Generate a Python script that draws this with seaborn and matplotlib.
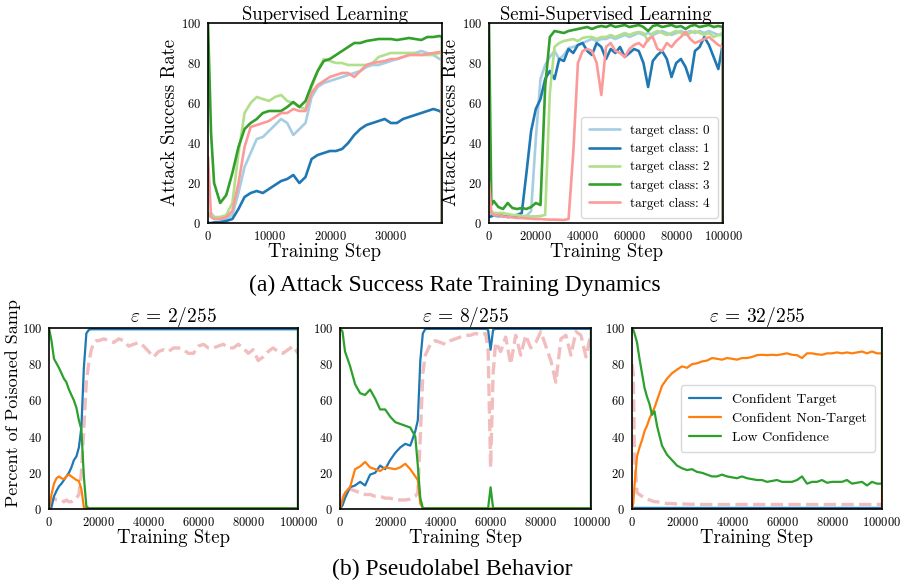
import matplotlib
matplotlib.use("Agg")
import matplotlib.pyplot as plt
import seaborn as sns
import pandas as pd

# ---------------- data ----------------
# (a) Supervised learning, attack success rate
sup_steps = [0, 500, 1000, 2000, 3000, 4000, 5000, 6000, 7000, 8000, 9000, 10000,
             11000, 12000, 13000, 14000, 15000, 16000, 17000, 18000, 19000, 20000,
             21000, 22000, 23000, 24000, 25000, 26000, 27000, 28000, 29000, 30000,
             31000, 32000, 33000, 34000, 35000, 36000, 37000, 38000, 38400, 38400]
sup_c0 = [3, 5, 3, 2, 2, 4, 15, 28, 35, 42, 43, 46, 49, 52, 50, 44, 47, 50, 63, 68, 70, 71,
          72, 73, 74, 75, 76, 78, 79, 79, 80, 81, 82, 83, 84, 85, 86, 85, 84, 82, 82, 0]
sup_c1 = [0, 0, 0.3, 0.5, 1, 2, 7, 13, 15, 16, 15, 17, 19, 21, 22, 24, 20, 23, 32, 34, 35, 36,
          36, 37, 40, 44, 47, 49, 50, 51, 52, 50, 50, 52, 53, 54, 55, 56, 57, 56, 55, 0]
sup_c2 = [5, 4, 3, 3, 4, 10, 35, 55, 60, 63, 62, 61, 63, 64, 61, 60, 58, 57, 68, 76, 82, 81,
          80, 80, 79, 79, 79, 79, 80, 83, 84, 85, 85, 85, 85, 85, 84, 84, 84, 85, 86, 0]
sup_c3 = [100, 45, 20, 10, 14, 25, 38, 47, 50, 52, 55, 56, 56, 56, 58, 60.5, 58, 61, 69, 76, 81, 82,
          84, 86, 88, 90, 90, 91, 91.5, 92, 92, 92, 91.5, 92, 92.5, 92, 91.5, 93, 93, 93.5, 93, 0]
sup_c4 = [33, 3, 2, 2, 3, 6, 20, 38, 48, 49, 50, 51, 53, 55, 55, 57, 56, 56, 65, 69, 71, 73,
          74, 75, 75, 73, 76, 79, 80, 80.5, 81, 82, 82, 83, 84, 84, 84, 84.5, 85, 85.5, 85, 0]

# (a) Semi-supervised learning
semi_steps = [0, 1000, 2000, 4000, 6000, 8000, 10000, 12000, 14000, 16000, 18000, 20000,
              22000, 24000, 26000, 28000, 30000, 32000, 34000, 36000, 38000, 40000,
              42000, 44000, 46000, 48000, 50000, 52000, 54000, 56000, 58000, 60000,
              62000, 64000, 66000, 68000, 70000, 72000, 74000, 76000, 78000, 80000,
              82000, 84000, 86000, 88000, 90000, 92000, 94000, 96000, 98000, 100000, 100000]
semi_c0 = [3, 4, 4, 3, 3.5, 3, 3.3, 3, 3.5, 3.5, 6, 42, 72, 79, 83, 86, 82, 84, 87.5, 88, 89, 90,
           91, 92, 91, 92, 92, 93, 92, 93, 94, 93, 94, 95, 94, 95, 94, 95, 96, 95, 94, 95,
           96, 95, 96, 95, 96, 95, 96, 95, 94, 95, 0]
semi_c1 = [3, 3.3, 4, 4, 3.5, 3, 3.5, 4, 5, 25, 46, 57, 62, 72, 76, 72, 82, 81, 87, 85, 89, 90,
           86, 84, 90, 88, 82, 87, 85, 88, 83, 85, 87, 86, 80, 68, 81, 84, 86, 82, 73, 80,
           82, 78, 71, 86, 88, 93, 89, 83, 77, 90, 0]
semi_c2 = [5, 6, 5, 5, 5, 4.5, 4, 4, 3.5, 3.3, 3.3, 3.3, 3.5, 4, 65, 88, 90, 91, 91.5, 92, 91, 92.5,
           93, 93, 92, 93, 93, 94, 93, 94, 95, 94, 95, 95.5, 95, 91, 95, 96, 95, 94, 95, 96,
           95, 94, 95, 96, 95, 94, 95, 93, 94, 94, 0]
semi_c3 = [100, 9, 11, 8, 7, 10, 7.5, 7, 7.5, 7, 8, 10, 9, 68, 93, 96, 95.5, 95, 96, 96.5, 97, 97.5,
           98, 97, 98, 98.5, 98, 99, 98, 98.5, 99, 98, 98.5, 99, 98, 96, 98.5, 99, 98, 98.5, 99, 98,
           98.5, 97, 98.5, 99, 98, 98.5, 99, 98, 98.5, 98, 0]
semi_c4 = [21, 5, 4, 4, 3.3, 3, 2.8, 2.5, 2.5, 2.3, 2.2, 2, 2, 1.8, 1.7, 1.7, 1.6, 1.5, 2, 35, 80, 86,
           87, 86, 80, 64, 88, 90, 86, 85, 83, 87, 89, 90, 88, 92, 93, 87, 86, 90, 88, 91,
           93, 95.5, 92, 90, 91, 92, 93, 91, 89, 88, 0]

class_labels = ["target class: 0", "target class: 1", "target class: 2",
                "target class: 3", "target class: 4"]

# (b) Pseudolabel behaviour, eps = 2/255
b1_steps = [0, 1000, 2000, 3000, 4000, 5000, 6000, 7000, 8000, 9000, 10000, 11000, 12000,
            13000, 14000, 15000, 16000, 17000, 18000, 19000, 20000,
            22000, 24000, 26000, 28000, 30000, 32000, 34000, 36000, 38000, 40000,
            42000, 44000, 46000, 48000, 50000, 52000, 54000, 56000, 58000, 60000,
            62000, 64000, 66000, 68000, 70000, 72000, 74000, 76000, 78000, 80000,
            82000, 84000, 86000, 88000, 90000, 92000, 94000, 96000, 98000, 100000, 100000]
b1_target = [0, 1, 7, 10, 12.5, 14, 16, 18, 20, 23, 27, 29, 34, 45, 78, 97, 99, 99.3, 99.3, 99.3, 99.3,
             99.3, 99.3, 99.3, 99.3, 99.3, 99.3, 99.3, 99.3, 99.3, 99.3,
             99.3, 99.3, 99.3, 99.3, 99.3, 99.3, 99.3, 99.3, 99.3, 99.3,
             99.3, 99.3, 99.3, 99.3, 99.3, 99.3, 99.3, 99.3, 99.3, 99.3,
             99.3, 99.3, 99.3, 99.3, 99.3, 99.3, 99.3, 99.3, 99.3, 99.3, 0]
b1_nontarget = [0, 8, 14, 17, 18, 17, 16.5, 18, 19, 18, 17, 16, 15.5, 11, 1, 0.3, 0.3, 0.3, 0.3, 0.3, 0.3,
                0.3, 0.3, 0.3, 0.3, 0.3, 0.3, 0.3, 0.3, 0.3, 0.3,
                0.3, 0.3, 0.3, 0.3, 0.3, 0.3, 0.3, 0.3, 0.3, 0.3,
                0.3, 0.3, 0.3, 0.3, 0.3, 0.3, 0.3, 0.3, 0.3, 0.3,
                0.3, 0.3, 0.3, 0.3, 0.3, 0.3, 0.3, 0.3, 0.3, 0.3, 0]
b1_low = [100, 93, 83, 80.5, 78, 75, 72, 70, 66, 63, 60, 56, 49, 44, 18, 1.5, 0.4, 0.4, 0.4, 0.4, 0.4,
          0.4, 0.4, 0.4, 0.4, 0.4, 0.4, 0.4, 0.4, 0.4, 0.4,
          0.4, 0.4, 0.4, 0.4, 0.4, 0.4, 0.4, 0.4, 0.4, 0.4,
          0.4, 0.4, 0.4, 0.4, 0.4, 0.4, 0.4, 0.4, 0.4, 0.4,
          0.4, 0.4, 0.4, 0.4, 0.4, 0.4, 0.4, 0.4, 0.4, 0.4, 100]
b1_dashed = [2, 4, 6, 5, 5, 5, 4, 5, 4, 4, 5, 6, 8, 20, 45, 70, 81, 88, 92, 93, 93,
             94, 93, 92, 94, 93, 90, 91, 92, 90, 87,
             84, 87, 88, 87, 89, 89, 88, 86, 86, 90,
             91, 89, 89, 90, 91, 89, 89, 91, 89, 86,
             88, 82, 84, 87, 89, 87, 86, 88, 90, 86, 86]

# eps = 8/255
b2_steps = [0, 1000, 2000, 4000, 6000, 8000, 10000, 12000, 14000, 16000, 18000, 20000,
            22000, 24000, 26000, 28000, 30000, 31000, 32000, 33000, 34000,
            36000, 38000, 40000, 42000, 44000, 46000, 48000, 50000, 52000, 54000, 56000, 58000,
            59000, 60000, 61000,
            62000, 64000, 66000, 68000, 70000, 72000, 74000, 76000, 78000, 80000,
            82000, 84000, 86000, 88000, 90000, 92000, 94000, 96000, 98000, 100000, 100000]
b2_target = [0, 2, 6, 12, 13, 15, 13, 19, 20, 24, 22, 27, 31, 34, 36, 35, 43, 49, 82, 97, 99.5,
             99.5, 99.5, 99.5, 99.5, 99.5, 99.5, 99.5, 99.5, 99.5, 99.5, 99.5, 99.5,
             99, 88, 99,
             99.5, 99.5, 99.5, 99.5, 99.5, 99.5, 99.5, 99.5, 99.5, 99.5,
             99.5, 99.5, 99.5, 99.5, 99.5, 99.5, 99.5, 99.5, 99.5, 99.5, 0]
b2_nontarget = [0, 5, 9, 12, 22, 23.5, 26, 23, 22, 21, 23, 22.5, 22, 23, 25, 22, 18, 16, 3, 0.4, 0.4,
                0.4, 0.4, 0.4, 0.4, 0.4, 0.4, 0.4, 0.4, 0.4, 0.4, 0.4, 0.4,
                0.4, 0.4, 0.4,
                0.4, 0.4, 0.4, 0.4, 0.4, 0.4, 0.4, 0.4, 0.4, 0.4,
                0.4, 0.4, 0.4, 0.4, 0.4, 0.4, 0.4, 0.4, 0.4, 0.4, 0]
b2_low = [100, 98, 87, 79, 69, 64, 63, 66, 61, 55, 55, 51, 48, 47, 46, 45, 40, 24, 6, 0.5, 0.4,
          0.4, 0.4, 0.4, 0.4, 0.4, 0.4, 0.4, 0.4, 0.4, 0.4, 0.4, 0.4,
          0.4, 12, 0.4,
          0.4, 0.4, 0.4, 0.4, 0.4, 0.4, 0.4, 0.4, 0.4, 0.4,
          0.4, 0.4, 0.4, 0.4, 0.4, 0.4, 0.4, 0.4, 0.4, 0.4, 100]
b2_dashed = [2, 5, 10, 11, 10, 9, 8, 8, 7, 7, 6, 6, 5, 5, 5, 5.5, 7, 9, 40, 75, 85,
             91, 93, 92, 91, 93, 94, 95, 96, 96, 97, 96, 97,
             88, 23, 75,
             92, 87, 95, 80, 96, 85, 96, 89, 92, 98,
             90, 82, 70, 94, 96, 85, 98, 96, 84, 97, 97]

# eps = 32/255
b3_steps = [0, 500, 1000, 2000, 3000, 4000, 5000, 6000, 7000, 8000, 9000, 10000,
            12000, 14000, 16000, 18000, 20000, 22000, 24000, 26000, 28000, 30000,
            32000, 34000, 36000, 38000, 40000, 42000, 44000, 46000, 48000, 50000,
            52000, 54000, 56000, 58000, 60000, 62000, 64000, 66000, 68000, 70000,
            72000, 74000, 76000, 78000, 80000, 82000, 84000, 86000, 88000, 90000,
            92000, 94000, 96000, 98000, 100000, 100000]
b3_target = [0, 0.6, 0.6, 0.6, 0.6, 0.6, 0.6, 0.6, 0.6, 0.6, 0.6, 0.6,
             0.6, 0.6, 0.6, 0.6, 0.6, 0.6, 0.6, 0.6, 0.6, 0.6,
             0.6, 0.6, 0.6, 0.6, 0.6, 0.6, 0.6, 0.6, 0.6, 0.6,
             0.6, 0.6, 0.6, 0.6, 0.6, 0.6, 0.6, 0.6, 0.6, 0.6,
             0.6, 0.6, 0.6, 0.6, 0.6, 0.6, 0.6, 0.6, 0.6, 0.6,
             0.6, 0.6, 0.6, 0.6, 0.6, 0]
b3_nontarget = [0, 3, 13, 29, 34, 38, 43, 46, 50, 53, 56, 60,
                68, 72, 75, 77, 78.8, 78, 80, 80.5, 81.5, 82,
                83.4, 83, 82.5, 83.4, 83, 82.5, 83.4, 83.4, 84, 85,
                85.2, 85, 85.2, 85, 85.5, 86, 85.2, 85, 83.4, 86,
                86, 85.5, 85.2, 86, 86, 86.5, 86, 86.5, 86, 86.5,
                87, 86, 87, 86, 86, 0]
b3_low = [100, 99, 97, 92, 83, 75, 67, 62, 58, 52, 54, 46,
          35, 30, 27, 24, 22.5, 21.5, 22, 20.5, 20, 19,
          18, 18, 19, 18, 17.5, 17, 18, 17, 16.5, 16,
          16, 15, 15.5, 16, 15, 15, 15, 16, 18, 14,
          15, 15, 16, 14.5, 15, 15, 15, 16, 14, 14.5,
          15, 13, 15, 14, 14, 100]
b3_dashed = [80, 75, 29, 9, 8, 7, 6, 5.5, 5, 4.5, 4, 4,
             3.5, 3, 3, 2.8, 2.8, 2.7, 2.6, 2.6, 2.5, 2.5,
             2.5, 2.5, 2.5, 2.5, 2.5, 2.5, 2.5, 2.5, 2.5, 2.5,
             2.5, 2.5, 2.5, 2.5, 2.5, 2.5, 2.5, 2.5, 2.5, 2.5,
             2.5, 2.5, 2.5, 2.5, 2.5, 2.5, 2.5, 2.5, 2.5, 2.5,
             2.5, 2.5, 2.5, 2.5, 2.5, 2.5]

pseudo_labels = ["Confident Target", "Confident Non-Target", "Low Confidence"]
eps_titles = [r"$\varepsilon$ = 2/255", r"$\varepsilon$ = 8/255", r"$\varepsilon$ = 32/255"]

# ---------------- style ----------------
sns.set_style("white")
plt.rcParams.update({
    "font.family": ["cmr10", "DejaVu Serif"],
    "mathtext.fontset": "cm",
    "axes.formatter.use_mathtext": True,
    "axes.edgecolor": "black",
    "axes.linewidth": 1.2,
    "xtick.bottom": False,
    "ytick.left": False,
    "xtick.major.pad": 1.5,
    "ytick.major.pad": 1.5,
    "xtick.labelsize": 9,
    "ytick.labelsize": 9,
    "xtick.color": "black",
    "ytick.color": "black",
    "axes.labelcolor": "black",
    "text.color": "black",
})

W, H = 901, 581
fig = plt.figure(figsize=(W / 100, H / 100), dpi=100)


def rect(l, t, r, b):
    return [l / W, 1 - b / H, (r - l) / W, (b - t) / H]


paired = sns.color_palette("Paired")
class_colors = [paired[0], paired[1], paired[2], paired[3], paired[4]]
tab = sns.color_palette("tab10")
pseudo_colors = [tab[0], tab[1], tab[2]]


def long_frame(steps, series, names):
    rows = []
    for name, vals in zip(names, series):
        rows.append(pd.DataFrame({"step": steps, "value": vals, "series": name}))
    return pd.concat(rows, ignore_index=True)


# top row
ax1 = fig.add_axes(rect(208, 23, 442, 223))
ax2 = fig.add_axes(rect(489, 23, 723, 223))
sup_df = long_frame(sup_steps, [sup_c0, sup_c1, sup_c2, sup_c3, sup_c4], class_labels)
semi_df = long_frame(semi_steps, [semi_c0, semi_c1, semi_c2, semi_c3, semi_c4], class_labels)

sns.lineplot(data=sup_df, x="step", y="value", hue="series", palette=class_colors,
             estimator=None, sort=False, lw=1.9, ax=ax1, legend=False)
sns.lineplot(data=semi_df, x="step", y="value", hue="series", palette=class_colors,
             estimator=None, sort=False, lw=1.9, ax=ax2)

ax1.set_xlim(0, 38400)
ax2.set_xlim(0, 100000)
ax1.set_xticks([0, 10000, 20000, 30000])
ax2.set_xticks([0, 20000, 40000, 60000, 80000, 100000])
ax1.set_title("Supervised Learning", fontsize=13.5, pad=2)
ax2.set_title("Semi-Supervised Learning", fontsize=13.5, pad=2)
for ax in (ax1, ax2):
    ax.set_ylim(0, 100)
    ax.set_yticks([0, 20, 40, 60, 80, 100])
    ax.set_xlabel("Training Step", fontsize=13.5, labelpad=0)
    ax.set_ylabel("Attack Success Rate", fontsize=13.5, labelpad=1)

leg = ax2.legend(loc="lower right", fontsize=9.5, frameon=True, handlelength=2.3,
                 borderpad=0.6, labelspacing=0.45, borderaxespad=0.4)
leg.get_frame().set_edgecolor("#d0d0d0")
for line in leg.get_lines():
    line.set_linewidth(1.9)

# bottom row
bottom_rects = [rect(49, 328, 298, 509), rect(340, 328, 591, 509), rect(632, 328, 882, 509)]
bottom_data = [
    (b1_steps, [b1_target, b1_nontarget, b1_low], b1_dashed),
    (b2_steps, [b2_target, b2_nontarget, b2_low], b2_dashed),
    (b3_steps, [b3_target, b3_nontarget, b3_low], b3_dashed),
]
for i, (r, (steps, series, dashed), title) in enumerate(zip(bottom_rects, bottom_data, eps_titles)):
    ax = fig.add_axes(r)
    sns.lineplot(x=steps, y=dashed, color="tab:red", alpha=0.3, lw=2.4, linestyle="--",
                 estimator=None, sort=False, ax=ax)
    df = long_frame(steps, series, pseudo_labels)
    sns.lineplot(data=df, x="step", y="value", hue="series", palette=pseudo_colors,
                 estimator=None, sort=False, lw=1.6, ax=ax, legend=(i == 2))
    ax.set_xlim(0, 100000)
    ax.set_ylim(0, 100)
    ax.set_xticks([0, 20000, 40000, 60000, 80000, 100000])
    ax.set_yticks([0, 20, 40, 60, 80, 100])
    ax.set_title(title, fontsize=14, pad=4)
    ax.set_xlabel("Training Step", fontsize=13.5, labelpad=0)
    ax.set_ylabel("")
    if i == 2:
        lg = ax.legend(loc="center right", fontsize=10, frameon=True, handlelength=2.3,
                       borderpad=0.6, labelspacing=0.45, borderaxespad=0.5)
        lg.get_frame().set_edgecolor("#d0d0d0")
        for line in lg.get_lines():
            line.set_linewidth(1.6)

fig.text(13 / W, 1 - 507 / H, "Percent of Poisoned Samp", rotation=90, fontsize=13,
         ha="center", va="bottom")

fig.text(455 / W, 1 - 285 / H, "(a) Attack Success Rate Training Dynamics",
         fontsize=17, family="Liberation Serif", ha="center", va="center")
fig.text(452 / W, 1 - 569 / H, "(b) Pseudolabel Behavior",
         fontsize=17, family="Liberation Serif", ha="center", va="center")

fig.savefig("out.png", dpi=100)
